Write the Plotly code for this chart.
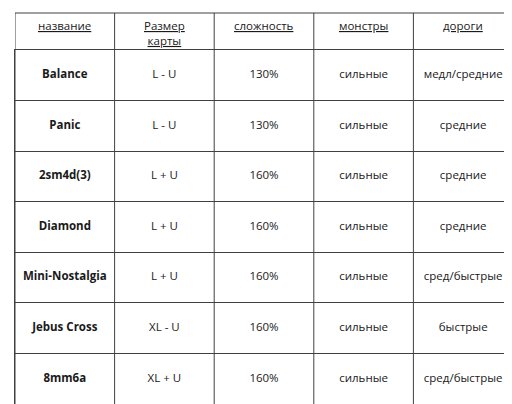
import plotly.graph_objects as go

headers = ["название", "Размер<br>карты", "сложность", "монстры", "дороги"]
names = ["Balance", "Panic", "2sm4d(3)", "Diamond", "Mini-Nostalgia", "Jebus Cross", "8mm6a"]
sizes = ["L - U", "L - U", "L + U", "L + U", "L + U", "XL - U", "XL + U"]
difficulty = ["130%", "130%", "160%", "160%", "160%", "160%", "160%"]
monsters = ["сильные"] * 7
roads = ["медл/средние", "средние", "средние", "средние", "сред/быстрые", "быстрые", "сред/быстрые"]

columns = [["<b>%s</b>" % n for n in names], sizes, difficulty, monsters, roads]
FONT = dict(family="Open Sans", size=11.5, color="#1a1a1a")

fig = go.Figure()
for ci, col in enumerate(columns):
    fig.add_trace(go.Scatter(x=[ci] * len(col), y=list(range(len(col))), mode="text",
                             text=col, textfont=FONT, hoverinfo="skip", showlegend=False))

W, H = 512, 404
mt, mb, ml, mr = 42, 8, 7, 7
ph = H - mt - mb
htop = 1 + 37 / ph
line = dict(color="#404040", width=1)
for ci, h in enumerate(headers):
    fig.add_annotation(x=ci, y=htop - 3 / ph, xref="x", yref="paper", text="<u>%s</u>" % h,
                       showarrow=False, yanchor="top", font=FONT)
for b in [k - 0.5 for k in range(len(headers) + 1)]:
    fig.add_shape(type="line", x0=b, x1=b, xref="x", y0=0, y1=htop, yref="paper", line=line)
fig.add_shape(type="line", x0=0, x1=1, xref="paper", y0=htop, y1=htop, yref="paper", line=line)

fig.update_xaxes(range=[-0.5, len(headers) - 0.5], showticklabels=False, showgrid=False,
                 zeroline=False, showline=True, mirror=True, linecolor="#404040")
fig.update_yaxes(range=[len(names) - 0.5, -0.5], showticklabels=False, zeroline=False,
                 showline=True, mirror=True, linecolor="#404040",
                 tickmode="array", tickvals=[k + 0.5 for k in range(len(names) - 1)],
                 showgrid=True, gridcolor="#404040", gridwidth=1, ticks="")
fig.update_layout(width=W, height=H, margin=dict(l=ml, r=mr, t=mt, b=mb),
                  paper_bgcolor="white", plot_bgcolor="white")
fig.write_html("out.html")
